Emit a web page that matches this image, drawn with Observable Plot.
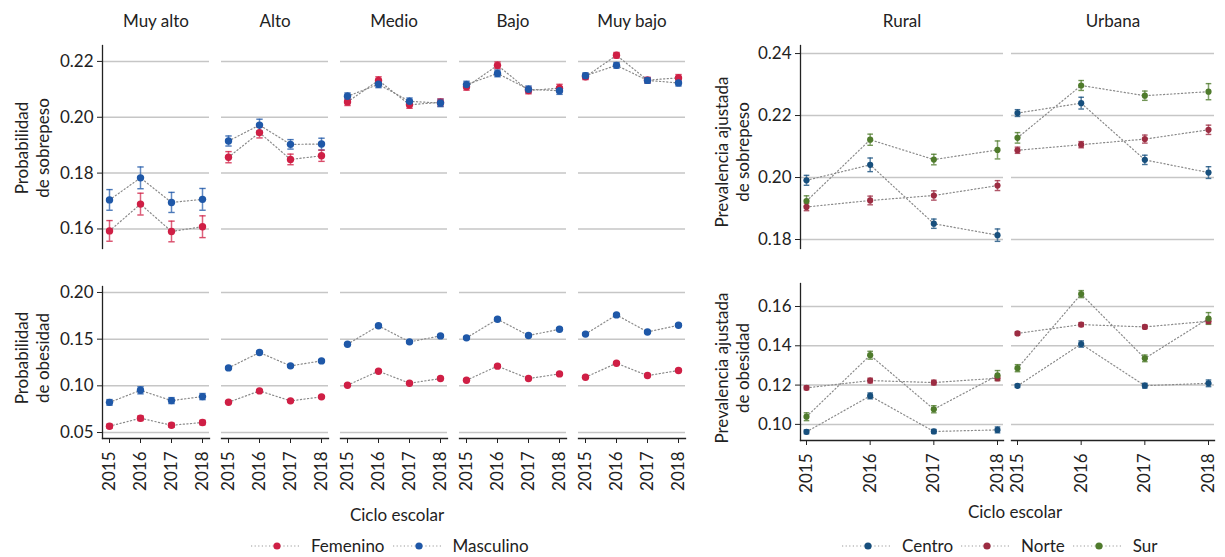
<!DOCTYPE html>
<html><head><meta charset="utf-8">
<script src="https://cdn.jsdelivr.net/npm/d3@7"></script>
<script src="https://cdn.jsdelivr.net/npm/@observablehq/plot@0.6"></script>
<style>
body{margin:0;background:#fff;}
#root{position:relative;width:1225px;height:557px;font-family:Lato,"Open Sans",sans-serif;color:#222;overflow:hidden;}
.abs{position:absolute;}
.ylab{position:absolute;transform:translate(-50%,-50%) rotate(-90deg);white-space:nowrap;text-align:center;font-size:17px;line-height:21px;}
.xlab{position:absolute;transform:translate(-50%,-50%);white-space:nowrap;font-size:17px;}
.leg{position:absolute;display:flex;align-items:center;font-size:17px;line-height:18px;white-space:nowrap;transform:translateY(-50%);}
.leg span{margin-left:12px;margin-right:8px;}
</style></head><body><div id="root"></div>
<script>
// ---------- data ----------
const years = [2015, 2016, 2017, 2018];
const niveles = ["Muy alto", "Alto", "Medio", "Bajo", "Muy bajo"];
const sexos = ["Femenino", "Masculino"];
const coloresSexo = ["#cf1f45", "#1f58a8"];

// Probabilidad de sobrepeso (per nivel, per year)
const sobrepesoFem = [
  [0.1593, 0.1689, 0.1591, 0.1608],
  [0.1857, 0.1945, 0.1849, 0.1862],
  [0.2055, 0.2132, 0.2045, 0.2053],
  [0.2109, 0.2186, 0.2096, 0.2104],
  [0.2145, 0.2222, 0.2133, 0.2141]
];
const sobrepesoFemErr = [
  [0.0037, 0.0039, 0.0037, 0.0039],
  [0.0020, 0.0019, 0.0019, 0.0020],
  [0.0013, 0.0013, 0.0013, 0.0013],
  [0.0012, 0.0012, 0.0012, 0.0014],
  [0.0010, 0.0010, 0.0010, 0.0012]
];
const sobrepesoMasc = [
  [0.1704, 0.1783, 0.1695, 0.1706],
  [0.1915, 0.1972, 0.1903, 0.1904],
  [0.2075, 0.2118, 0.2057, 0.2051],
  [0.2117, 0.2157, 0.2100, 0.2095],
  [0.2149, 0.2186, 0.2132, 0.2123]
];
const sobrepesoMascErr = [
  [0.0037, 0.0039, 0.0036, 0.0039],
  [0.0018, 0.0021, 0.0017, 0.0021],
  [0.0012, 0.0012, 0.0012, 0.0013],
  [0.0012, 0.0012, 0.0012, 0.0013],
  [0.0010, 0.0010, 0.0010, 0.0011]
];
// Probabilidad de obesidad
const obesidadFem = [
  [0.0568, 0.0653, 0.0578, 0.0607],
  [0.0824, 0.0946, 0.0839, 0.0882],
  [0.1007, 0.1157, 0.1028, 0.1078],
  [0.1060, 0.1211, 0.1078, 0.1128],
  [0.1092, 0.1242, 0.1110, 0.1164]
];
const obesidadFemErr = [
  [0.0022, 0.0025, 0.0022, 0.0024],
  [0.0012, 0.0013, 0.0012, 0.0012],
  [0.0012, 0.0012, 0.0012, 0.0012],
  [0.0012, 0.0012, 0.0012, 0.0012],
  [0.0012, 0.0012, 0.0012, 0.0012]
];
const obesidadMasc = [
  [0.0823, 0.0952, 0.0842, 0.0885],
  [0.1192, 0.1357, 0.1214, 0.1267],
  [0.1446, 0.1643, 0.1471, 0.1535],
  [0.1514, 0.1714, 0.1539, 0.1606],
  [0.1554, 0.1760, 0.1577, 0.1649]
];
const obesidadMascErr = [
  [0.0030, 0.0038, 0.0032, 0.0033],
  [0.0013, 0.0014, 0.0013, 0.0013],
  [0.0013, 0.0013, 0.0013, 0.0013],
  [0.0013, 0.0013, 0.0013, 0.0013],
  [0.0013, 0.0013, 0.0013, 0.0013]
];

const areas = ["Rural", "Urbana"];
const regiones = ["Centro", "Norte", "Sur"];
const coloresRegion = ["#174f7d", "#9c2c42", "#4f7b2c"];

// Prevalencia ajustada de sobrepeso (per area, per year)
const sobrepesoCentro = [[0.1991, 0.2041, 0.1851, 0.1814], [0.2208, 0.2240, 0.2057, 0.2016]];
const sobrepesoCentroErr = [[0.0016, 0.0022, 0.0015, 0.0020], [0.0011, 0.0019, 0.0015, 0.0019]];
const sobrepesoNorte = [[0.1905, 0.1926, 0.1942, 0.1974], [0.2088, 0.2106, 0.2124, 0.2154]];
const sobrepesoNorteErr = [[0.0012, 0.0014, 0.0015, 0.0016], [0.0010, 0.0010, 0.0013, 0.0015]];
const sobrepesoSur = [[0.1924, 0.2122, 0.2058, 0.2089], [0.2128, 0.2297, 0.2264, 0.2277]];
const sobrepesoSurErr = [[0.0017, 0.0018, 0.0017, 0.0029], [0.0017, 0.0016, 0.0015, 0.0026]];
// Prevalencia ajustada de obesidad
const obesidadCentro = [[0.0962, 0.1145, 0.0964, 0.0972], [0.1196, 0.1409, 0.1197, 0.1209]];
const obesidadCentroErr = [[0.0010, 0.0015, 0.0010, 0.0015], [0.0008, 0.0016, 0.0012, 0.0017]];
const obesidadNorte = [[0.1186, 0.1223, 0.1213, 0.1235], [0.1463, 0.1508, 0.1496, 0.1525]];
const obesidadNorteErr = [[0.0010, 0.0012, 0.0012, 0.0013], [0.0008, 0.0010, 0.0009, 0.0012]];
const obesidadSur = [[0.1039, 0.1352, 0.1077, 0.1249], [0.1286, 0.1663, 0.1336, 0.1539]];
const obesidadSurErr = [[0.0020, 0.0020, 0.0018, 0.0025], [0.0018, 0.0018, 0.0017, 0.0030]];

const ticksSobrepesoL = [0.16, 0.18, 0.20, 0.22];
const ticksObesidadL = [0.05, 0.10, 0.15, 0.20];
const ticksSobrepesoR = [0.18, 0.20, 0.22, 0.24];
const ticksObesidadR = [0.10, 0.12, 0.14, 0.16];

// ---------- helpers ----------
function buildRows(panels, groups, values, errs) {
  const rows = [];
  groups.forEach((g, j) => {
    panels.forEach((p, i) => {
      years.forEach((y, k) => {
        const v = values[j][i][k], e = errs[j][i][k];
        rows.push({panel: p, group: g, year: y, value: v, lo: v - e, hi: v + e});
      });
    });
  });
  return rows;
}

const capSymbol = {
  draw(ctx, size) {
    const w = Math.sqrt(size / Math.PI);
    ctx.moveTo(-w, 0); ctx.lineTo(w, 0);
  }
};

const root = document.getElementById("root");

function place(el, left, top) {
  const d = document.createElement("div");
  d.className = "abs";
  d.style.left = left + "px";
  d.style.top = top + "px";
  d.appendChild(el);
  root.appendChild(d);
}

function panelPlot(o) {
  const marks = [
    Plot.gridY(o.yTicks, {stroke: "#c6c6c6", strokeOpacity: 1, strokeWidth: 1.5}),
    Plot.frame({anchor: "left", fx: [o.panels[0]], stroke: "#222", strokeWidth: 1.3}),
    Plot.axisY(o.yTicks, {tickFormat: ".2f", tickSize: 5, tickPadding: 4, fontSize: 17, label: null})
  ];
  if (o.bottom) {
    marks.push(Plot.frame({anchor: "bottom", stroke: "#222", strokeWidth: 1.3}));
    marks.push(Plot.axisX(years, {tickFormat: "d", tickRotate: -90, tickSize: 5, tickPadding: 8, fontSize: 17, label: null}));
  } else {
    marks.push(Plot.axisFx({anchor: "top", tickSize: 0, tickPadding: 19, fontSize: 17, label: null}));
  }
  marks.push(
    Plot.line(o.rows, {x: "year", y: "value", z: "group", fx: "panel", stroke: "#8a8a8a", strokeWidth: 1.2, strokeDasharray: "1.2,2.4"}),
    Plot.ruleX(o.rows, {x: "year", y1: "lo", y2: "hi", fx: "panel", stroke: "group", strokeWidth: 1.5, strokeOpacity: 0.7}),
    Plot.dot(o.rows, {x: "year", y: "lo", fx: "panel", stroke: "group", fill: "none", symbol: capSymbol, r: o.cap, strokeWidth: 1.4, strokeOpacity: 0.8}),
    Plot.dot(o.rows, {x: "year", y: "hi", fx: "panel", stroke: "group", fill: "none", symbol: capSymbol, r: o.cap, strokeWidth: 1.4, strokeOpacity: 0.8}),
    Plot.dot(o.rows, {x: "year", y: "value", fx: "panel", fill: "group", r: o.r})
  );
  return Plot.plot({
    width: o.width, height: o.height,
    marginLeft: o.ml, marginRight: o.mr, marginTop: o.mt, marginBottom: o.mb,
    style: {fontFamily: "Lato, 'Open Sans', sans-serif", fontSize: "17px", color: "#222", background: "transparent", overflow: "visible"},
    x: {domain: [2015, 2018], inset: o.inset, axis: null},
    y: {domain: o.yDomain, axis: null},
    fx: {domain: o.panels, paddingInner: o.pad, paddingOuter: 0, axis: null},
    color: {domain: o.groups, range: o.colors},
    marks
  });
}

// ---------- left figure ----------
place(panelPlot({
  rows: buildRows(niveles, sexos, [sobrepesoFem, sobrepesoMasc], [sobrepesoFemErr, sobrepesoMascErr]),
  panels: niveles, groups: sexos, colors: coloresSexo,
  yDomain: [0.153, 0.2257], yTicks: ticksSobrepesoL,
  width: 700, height: 250, ml: 100, mr: 12, mt: 45, mb: 2, pad: 0.1, inset: 7, r: 3.7, cap: 3.2, bottom: false
}), 0, 0);

place(panelPlot({
  rows: buildRows(niveles, sexos, [obesidadFem, obesidadMasc], [obesidadFemErr, obesidadMascErr]),
  panels: niveles, groups: sexos, colors: coloresSexo,
  yDomain: [0.0436, 0.2064], yTicks: ticksObesidadL,
  width: 700, height: 250, ml: 100, mr: 12, mt: 36, mb: 62, pad: 0.1, inset: 7, r: 3.7, cap: 3.2, bottom: true
}), 0, 250);

// ---------- right figure ----------
place(panelPlot({
  rows: buildRows(areas, regiones, [sobrepesoCentro, sobrepesoNorte, sobrepesoSur], [sobrepesoCentroErr, sobrepesoNorteErr, sobrepesoSurErr]),
  panels: areas, groups: regiones, colors: coloresRegion,
  yDomain: [0.1771, 0.2426], yTicks: ticksSobrepesoR,
  width: 525, height: 250, ml: 100, mr: 11, mt: 45, mb: 2, pad: 0.038, inset: 6, r: 3.1, cap: 2.8, bottom: false
}), 700, 0);

place(panelPlot({
  rows: buildRows(areas, regiones, [obesidadCentro, obesidadNorte, obesidadSur], [obesidadCentroErr, obesidadNorteErr, obesidadSurErr]),
  panels: areas, groups: regiones, colors: coloresRegion,
  yDomain: [0.0918, 0.1717], yTicks: ticksObesidadR,
  width: 525, height: 250, ml: 100, mr: 11, mt: 33, mb: 60, pad: 0.038, inset: 6, r: 3.1, cap: 2.8, bottom: true
}), 700, 250);

// ---------- text labels ----------
function ylab(lines, cx, cy) {
  const d = document.createElement("div");
  d.className = "ylab";
  d.style.left = cx + "px"; d.style.top = cy + "px";
  d.innerHTML = lines.join("<br>");
  root.appendChild(d);
}
function xlab(text, cx, cy) {
  const d = document.createElement("div");
  d.className = "xlab";
  d.style.left = cx + "px"; d.style.top = cy + "px";
  d.textContent = text;
  root.appendChild(d);
}
ylab(["Probabilidad", "de sobrepeso"], 31.5, 148);
ylab(["Probabilidad", "de obesidad"], 31.5, 358);
ylab(["Prevalencia ajustada", "de sobrepeso"], 732, 152);
ylab(["Prevalencia ajustada", "de obesidad"], 732, 368);
xlab("Ciclo escolar", 397, 514);
xlab("Ciclo escolar", 1015, 511);

function legend(groups, colors, left, top) {
  const d = document.createElement("div");
  d.className = "leg";
  d.style.left = left + "px"; d.style.top = top + "px";
  groups.forEach((g, i) => {
    const ns = "http://www.w3.org/2000/svg";
    const s = document.createElementNS(ns, "svg");
    s.setAttribute("width", 48); s.setAttribute("height", 12);
    const l = document.createElementNS(ns, "line");
    l.setAttribute("x1", 0); l.setAttribute("x2", 48); l.setAttribute("y1", 6); l.setAttribute("y2", 6);
    l.setAttribute("stroke", "#999"); l.setAttribute("stroke-width", 1.2); l.setAttribute("stroke-dasharray", "1.2,2.4");
    const c = document.createElementNS(ns, "circle");
    c.setAttribute("cx", 26); c.setAttribute("cy", 6); c.setAttribute("r", 3.6); c.setAttribute("fill", colors[i]);
    s.appendChild(l); s.appendChild(c);
    d.appendChild(s);
    const t = document.createElement("span");
    t.textContent = g;
    d.appendChild(t);
  });
  root.appendChild(d);
}
legend(sexos, coloresSexo, 251, 546);
legend(regiones, coloresRegion, 842, 546);
</script></body></html>
